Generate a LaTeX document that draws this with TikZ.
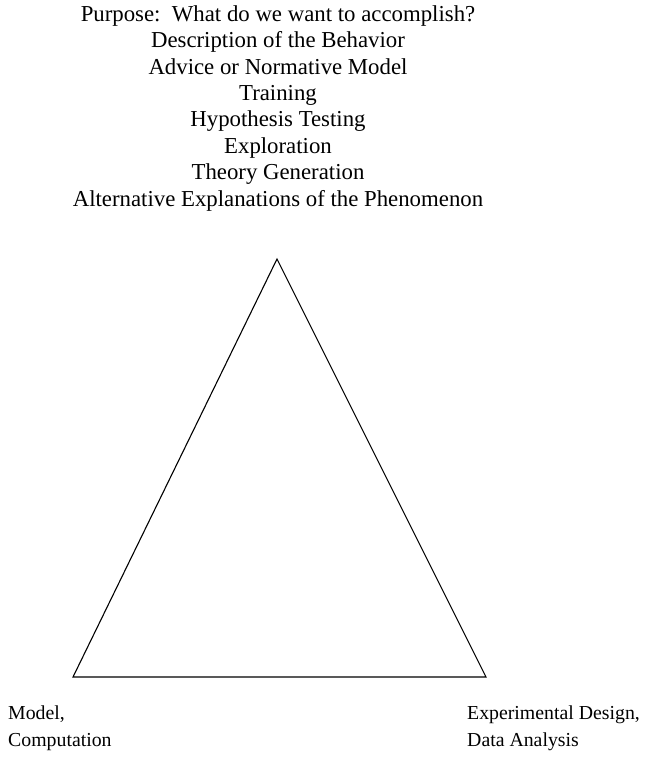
\documentclass[tikz,border=0pt]{standalone}
\usepackage{fontspec}
\setmainfont{Liberation Serif}
\usetikzlibrary{positioning}

\begin{document}
\begin{tikzpicture}[x=1pt, y=-1pt,
  txt/.style={font=\fontsize{22.8}{26.4}\selectfont, inner sep=0pt},
  corner/.style={font=\fontsize{19.8}{27}\selectfont, inner sep=0pt, align=left, anchor=base west},
]
\useasboundingbox (0,0) rectangle (647,771);
% purposes, anchored on the last line
\node[txt, align=center, anchor=base] (purpose) at (278,206) {Purpose:\ \ What do we want to accomplish?\\
  Description of the Behavior\\
  Advice or Normative Model\\
  Training\\
  Hypothesis Testing\\
  Exploration\\
  Theory Generation\\
  Alternative Explanations of the Phenomenon};
% triangle
\coordinate (top)   at (277,259);
\coordinate (model) at (73,677);
\coordinate (data)  at (486,677);
\draw[line width=1.1pt, line join=miter] (top) -- (model) -- (data) -- cycle;
\node[corner] (modellbl) at (8,746)   {Model,\\Computation};
\node[corner] (datalbl)  at (467,746) {Experimental Design,\\Data Analysis};
\end{tikzpicture}
\end{document}
